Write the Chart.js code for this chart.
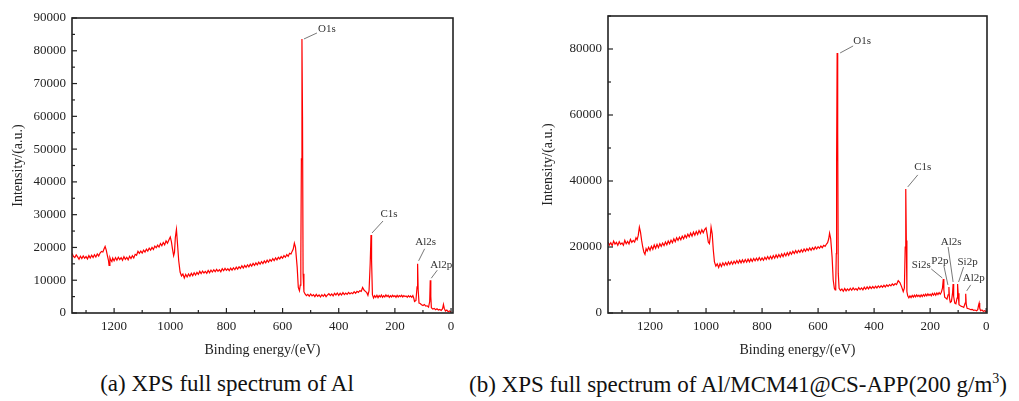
<!DOCTYPE html>
<html>
<head>
<meta charset="utf-8">
<script src="https://cdn.jsdelivr.net/npm/chart.js@4.4.1/dist/chart.umd.min.js"></script>
<style>
  body { margin: 0; background: #fff; width: 1019px; height: 401px; position: relative; overflow: hidden; }
  canvas { position: absolute; top: 0; }
  .cap { position: absolute; top: 371px; font-family: 'Liberation Serif', 'Times New Roman', serif; font-size: 23px; color: #111; white-space: nowrap; transform: translateX(-50%); }
  .cap sup { font-size: 14px; }
</style>
</head>
<body>
<canvas id="chartA" width="470" height="365" style="left:0px"></canvas>
<canvas id="chartB" width="489" height="365" style="left:530px"></canvas>
<div class="cap" style="left:227px">(a) XPS full spectrum of Al</div>
<div class="cap" style="left:738px">(b) XPS full spectrum of Al/MCM41@CS-APP(200 g/m<sup>3</sup>)</div>
<script>
// binding energies (eV) and intensities, rows of 10
var energyA = [1350,1345,1340,1335,1330,1325,1320,1315,1310,1305,
  1300,1295,1290,1285,1280,1275,1270,1265,1260,1255,
  1250,1245,1240,1236,1232,1228,1224,1220,1218,1215,
  1212,1208,1205,1200,1195,1190,1185,1180,1175,1170,
  1165,1160,1155,1150,1145,1140,1135,1130,1125,1120,
  1115,1110,1105,1100,1095,1090,1085,1080,1075,1070,
  1065,1060,1055,1050,1045,1040,1035,1030,1025,1020,
  1015,1010,1005,1000,996,992,988,985,982,978,
  975,970,965,960,955,950,945,940,935,930,
  925,920,915,910,905,900,895,890,885,880,
  875,870,865,860,855,850,845,840,835,830,
  825,820,815,810,805,800,795,790,785,780,
  775,770,765,760,755,750,745,740,735,730,
  725,720,715,710,705,700,695,690,685,680,
  675,670,665,660,655,650,645,640,635,630,
  625,620,615,610,605,600,595,590,585,580,
  575,570,566,562,558,554,548,544,540,537,
  535,533,531,529,527,524,520,515,510,505,
  500,495,490,485,480,475,470,465,460,455,
  450,445,440,435,430,425,420,415,410,405,
  400,395,390,385,380,375,370,365,360,355,
  350,345,340,335,330,325,320,315,310,305,
  300,296,292,288,285,283,280,276,272,268,
  264,260,256,252,248,244,240,236,232,228,
  224,220,216,212,208,204,200,196,192,188,
  184,180,176,172,168,164,160,156,152,148,
  144,140,136,133,130,125,121,119,117,114,
  110,105,100,95,90,85,80,76,74,72,
  70,65,60,55,50,45,40,35,30,27,
  24,20,15,10,5,0];
var intensityA = [18200,17300,16900,17700,17100,16400,17300,16600,17400,16700,
  17200,16500,17500,16800,17600,16900,17800,17100,18000,17400,
  18300,18800,18600,19500,20300,19200,17500,16000,14500,16900,
  16200,15700,16800,15900,16900,16100,17000,16300,16900,16100,
  17200,16400,17000,16200,17300,16600,17500,16800,17900,17600,
  18800,18200,18900,18300,19200,18600,19500,18900,19800,19200,
  20000,19400,20400,19900,20700,20100,21200,20500,21500,20800,
  22000,21300,22300,23200,21800,19500,17500,18500,23000,25500,
  22000,16000,12500,11300,11900,10700,11800,11000,11900,11200,
  12100,11400,12300,11600,12400,11800,12700,12000,12800,12200,
  12700,12100,13000,12300,13100,12500,13200,12600,13300,12700,
  13200,12600,13500,12900,13600,13000,13500,12900,13700,13100,
  13800,13200,14000,13400,14100,13600,14400,13700,14500,13900,
  14700,14100,14900,14300,15100,14500,15300,14700,15500,14900,
  15700,15100,15900,15300,16100,15500,16300,15800,16600,16000,
  16800,16200,17000,16500,17200,16700,17500,17000,17800,17300,
  18200,18000,18800,19500,21300,20000,14000,7800,6800,8500,
  16000,47000,83600,60000,12000,6500,5800,5300,5700,5100,
  5800,5200,5600,5000,5700,5100,5500,4900,5600,5100,
  5700,5000,5500,5900,5300,5800,5200,6000,5500,6100,
  5400,6000,5500,6200,5600,6100,5700,6300,5800,6200,
  5900,6500,6000,6600,6300,6800,6600,7800,7000,6600,
  6200,5400,6800,15000,23800,16000,5600,4600,5300,4800,
  5400,4700,5300,4900,5500,4800,5300,4900,5500,5000,
  5400,4800,5300,4900,5400,5000,5300,4800,5400,4900,
  5300,5000,5400,4900,5300,5000,5200,4800,5300,4900,
  5200,4800,5300,4600,3500,3800,8000,15000,7000,3000,
  2900,2500,2300,2600,2100,2200,1800,3500,10000,5000,
  1600,1200,1400,1000,1300,900,1100,800,1300,2600,
  1400,600,900,400,600,300];

var energyB = [1350,1345,1340,1335,1330,1325,1320,1315,1310,1305,
  1300,1295,1290,1285,1280,1275,1270,1265,1260,1255,
  1250,1246,1242,1238,1234,1230,1226,1222,1218,1214,
  1210,1205,1200,1195,1190,1185,1180,1175,1170,1165,
  1160,1155,1150,1145,1140,1135,1130,1125,1120,1115,
  1110,1105,1100,1095,1090,1085,1080,1075,1070,1065,
  1060,1055,1050,1045,1040,1035,1030,1025,1020,1015,
  1010,1005,1000,996,992,988,985,982,978,974,
  970,965,960,955,950,945,940,935,930,925,
  920,915,910,905,900,895,890,885,880,875,
  870,865,860,855,850,845,840,835,830,825,
  820,815,810,805,800,795,790,785,780,775,
  770,765,760,755,750,745,740,735,730,725,
  720,715,710,705,700,695,690,685,680,675,
  670,665,660,655,650,645,640,635,630,625,
  620,615,610,605,600,595,590,585,580,575,
  570,566,562,559,555,550,546,542,539,537,
  535,534,532,530,528,525,520,515,510,505,
  500,495,490,485,480,475,470,465,460,455,
  450,445,440,435,430,425,420,415,410,405,
  400,395,390,385,380,375,370,365,360,355,
  350,345,340,335,330,325,320,314,308,302,
  296,292,289,287,285,283,280,276,272,268,
  264,260,256,252,248,244,240,236,232,228,
  224,220,216,212,208,204,200,196,192,188,
  184,180,176,172,168,164,160,156,153,151,
  148,144,140,136,133,131,128,124,120,118,
  116,112,108,104,102,100,97,92,88,84,
  80,75,73,71,68,60,55,50,45,40,
  34,30,27,25,23,20,15,10,5,0];
var intensityB = [21500,20600,21300,20400,21800,20900,21400,20500,21600,20800,
  21200,20500,22000,21000,21700,20900,22300,21400,22000,21500,
  22800,22200,23500,26000,24500,22000,20000,18500,17800,19500,
  18800,19900,19000,20200,19300,20600,19600,20800,19800,21000,
  20200,21200,20400,21500,20700,21800,21000,22100,21300,22500,
  21600,22800,22000,23000,22200,23300,22500,23600,22800,23900,
  23100,24200,23300,24500,23600,24700,23800,25000,24100,25200,
  24300,25300,25800,23800,21500,21000,23000,26000,24000,19000,
  15500,14200,14900,13800,15000,14100,15200,14400,15300,14500,
  15500,14700,15600,14800,15700,15000,15900,15100,16000,15200,
  16100,15300,16200,15400,16300,15500,16400,15600,16500,15800,
  16600,15900,16800,16000,16700,16000,16900,16200,17100,16300,
  17200,16400,17400,16600,17600,16800,17700,16900,17900,17100,
  18100,17300,18300,17500,18500,17800,18700,18000,18900,18200,
  19000,18400,19200,18500,19400,18700,19500,18900,19700,19000,
  19800,19200,20000,19400,20100,19600,20300,19800,20500,20200,
  20900,21300,22500,24200,22500,17000,10000,7500,7000,9000,
  18000,45000,78800,55000,12000,7500,6800,7300,6600,7400,
  6700,7300,6800,7500,6900,7600,7000,7400,6900,7700,
  7100,7600,7000,7800,7200,7900,7300,8000,7400,8000,
  7500,8100,7600,8200,7700,8300,7800,8400,7900,8500,
  8100,8600,8200,8800,8400,8900,8600,9800,9200,8000,
  6500,7500,20000,37600,22000,6500,5200,4600,5200,4700,
  5300,4800,5400,4900,5500,5000,5400,4900,5500,5000,
  5600,5100,5700,5200,5800,5300,5700,5200,5900,5400,
  6000,5400,6100,5600,6200,5700,6300,7500,10300,7000,
  4800,4500,4200,5500,7900,4500,3200,3500,6000,8800,
  5000,3000,2800,4500,8800,6000,2500,2200,2000,1900,
  1700,3000,5800,2500,1400,1200,1000,1100,800,900,
  700,1000,2400,3000,1500,700,900,500,700,400];

var xTicks = [1200, 1000, 800, 600, 400, 200, 0];
var yTicksA = [0, 10000, 20000, 30000, 40000, 50000, 60000, 70000, 80000, 90000];
var yTicksB = [0, 20000, 40000, 60000, 80000];

var peaksA = ['O1s', 'C1s', 'Al2s', 'Al2p'];
var peakEnergyA = [531, 285, 119, 74];
var peaksB = ['O1s', 'C1s', 'Si2s', 'P2p', 'Al2s', 'Si2p', 'Al2p'];
var peakEnergyB = [532, 287, 153, 133, 118, 102, 73];

// leader line start/end and text centre offsets from each peak top, in px
var leadA = [[2,0,15,-6,25,-10], [1,-2,12,-14,18,-21], [1,-3,7,-15,8,-22], [1,-2,7,-10,11,-15]];
var leadB = [[3,0,16,-7,25,-12], [2,-2,12,-14,17,-22], [-1,-1,-12,-10,-22,-14], [-1,-2,-5,-21,-9,-26],
  [0,-2,-5,-37,-2,-42], [1,-2,6,-17,10,-22], [1,-3,5,-9,8,-16]];

var serif = "'Liberation Serif', 'Times New Roman', serif";

function makePoints(xs, ys) {
  var pts = [];
  for (let i = 0; i < xs.length; i++) pts.push({x: xs[i], y: ys[i]});
  return pts;
}

// inward ticks, box frame and peak labels
var framePlugin = {
  id: 'frame',
  afterDraw(chart, args, opts) {
    let ctx = chart.ctx;
    let a = chart.chartArea;
    let xs = chart.scales.x, ys = chart.scales.y;
    ctx.save();
    ctx.strokeStyle = '#222';
    ctx.lineWidth = 1.2;
    for (let v = 0; v <= 1300; v += 100) {
      let px = xs.getPixelForValue(v);
      let len = (v % 200 === 0) ? 5 : 3;
      ctx.beginPath(); ctx.moveTo(px, a.bottom); ctx.lineTo(px, a.bottom - len); ctx.stroke();
    }
    for (let v = 0; v <= 90000; v += opts.minor) {
      let py = ys.getPixelForValue(v);
      let len = (v % opts.major === 0) ? 5 : 3;
      ctx.beginPath(); ctx.moveTo(a.left, py); ctx.lineTo(a.left + len, py); ctx.stroke();
    }
    ctx.lineWidth = 1.6;
    ctx.strokeRect(a.left, a.top, a.right - a.left, a.bottom - a.top);

    let ds = chart.data.datasets[0].data;
    ctx.font = '11px ' + serif;
    ctx.fillStyle = '#333';
    ctx.textAlign = 'center';
    ctx.textBaseline = 'middle';
    ctx.strokeStyle = '#555';
    ctx.lineWidth = 0.8;
    for (let i = 0; i < opts.names.length; i++) {
      let pt = ds.find(p => p.x === opts.energies[i]);
      let px = xs.getPixelForValue(pt.x);
      let py = ys.getPixelForValue(pt.y);
      let o = opts.lead[i];
      ctx.beginPath(); ctx.moveTo(px + o[0], py + o[1]); ctx.lineTo(px + o[2], py + o[3]); ctx.stroke();
      ctx.fillText(opts.names[i], px + o[4], py + o[5]);
    }
    ctx.restore();
  }
};

function createChart(id, xs, ys, yTicks, axisWidth, titlePad, xMin, labels) {
  let ctx = document.getElementById(id).getContext('2d');
  return new Chart(ctx, {
    type: 'line',
    data: {
      datasets: [{
        data: makePoints(xs, ys),
        borderColor: '#ff0000',
        borderWidth: 1.2,
        pointRadius: 0,
        tension: 0
      }]
    },
    options: {
      responsive: false,
      animation: false,
      devicePixelRatio: 1,
      layout: { padding: { top: labels.top, right: labels.right, left: 0, bottom: 0 } },
      plugins: {
        legend: { display: false },
        tooltip: { enabled: false },
        frame: labels
      },
      scales: {
        x: {
          type: 'linear',
          reverse: true,
          min: xMin,
          max: 1350,
          grid: { display: false, drawTicks: false, tickLength: 0 },
          border: { display: false },
          afterBuildTicks: s => { s.ticks = xTicks.map(v => ({value: v})); },
          afterFit: s => { s.height = 52; },
          ticks: { color: '#222', padding: 6, font: { family: serif, size: 13 }, maxRotation: 0, callback: v => String(v) },
          title: { display: true, text: 'Binding energy/(eV)', color: '#222', font: { family: serif, size: 14 }, padding: { top: 0, bottom: 6 } }
        },
        y: {
          min: 0,
          max: 90000,
          grid: { display: false, drawTicks: false, tickLength: 0 },
          border: { display: false },
          afterBuildTicks: s => { s.ticks = yTicks.map(v => ({value: v})); },
          afterFit: s => { s.width = axisWidth; },
          ticks: { color: '#222', padding: 6, font: { family: serif, size: 13 }, callback: v => String(v) },
          title: { display: true, text: 'Intensity/(a.u.)', color: '#222', font: { family: serif, size: 14 }, padding: { top: titlePad, bottom: 0 } }
        }
      }
    },
    plugins: [framePlugin]
  });
}

createChart('chartA', energyA, intensityA, yTicksA, 72, 9.6, -7,
  { names: peaksA, energies: peakEnergyA, lead: leadA, major: 10000, minor: 5000, top: 18, right: 17 });
createChart('chartB', energyB, intensityB, yTicksB, 78, 9.6, -3,
  { names: peaksB, energies: peakEnergyB, lead: leadB, major: 20000, minor: 10000, top: 16, right: 32 });
</script>
</body>
</html>
